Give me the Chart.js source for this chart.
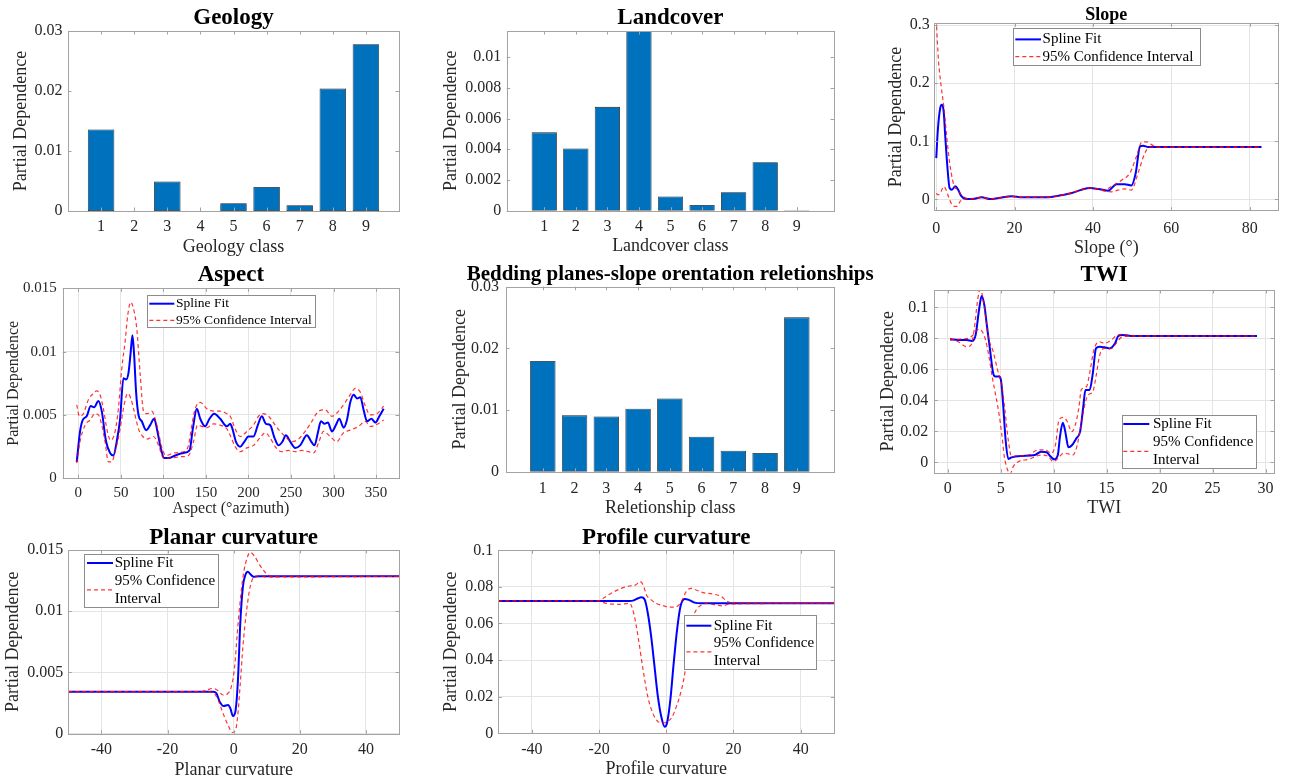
<!DOCTYPE html>
<html>
<head>
<meta charset="utf-8">
<title>Partial dependence plots</title>
<script src="https://cdn.jsdelivr.net/npm/chart.js@4.4.1/dist/chart.umd.min.js"></script>
<style>
  html, body { margin: 0; padding: 0; background: #fff; }
  #figure { position: relative; width: 1291px; height: 782px; overflow: hidden; }
  #figure canvas { position: absolute; }
</style>
</head>
<body>
<div id="figure"></div>
<script>
// ---------- data ----------
const classes = [1, 2, 3, 4, 5, 6, 7, 8, 9];
const geologyPD   = [0.0136, 0, 0.0049, 0, 0.0013, 0.0040, 0.00095, 0.0204, 0.0278];
const landcoverPD = [0.0051, 0.00405, 0.00676, 0.0117, 0.00092, 0.00037, 0.0012, 0.00316, 0.00003];
const beddingPD   = [0.01795, 0.00914, 0.00897, 0.01022, 0.01189, 0.00568, 0.0034, 0.00303, 0.02503];

const slopeFitX = [0, 0.4, 1.0, 1.45, 1.9, 2.3, 2.9, 3.4, 4.0, 4.85, 5.5, 6.3, 7.4, 9.1, 11.6, 13.8, 15.9, 19.3, 21.8, 28.6, 31.2, 34.6, 37.1, 39.3, 41.4, 42.2, 43.9, 46.0, 48.1, 49.8, 50.9, 52.0, 52.8, 54.1, 56.0, 83];
const slopeFitY = [0.071, 0.119, 0.157, 0.163, 0.151, 0.108, 0.051, 0.0195, 0.0166, 0.0224, 0.0178, 0.0063, 0.0011, 0.0006, 0.0034, 0.0006, 0.0023, 0.0052, 0.0034, 0.0034, 0.0063, 0.011, 0.0166, 0.0195, 0.0178, 0.017, 0.015, 0.026, 0.026, 0.024, 0.045, 0.091, 0.0925, 0.09, 0.09, 0.09];
const slopeUpX = [0, 0.55, 1.25, 1.9, 2.5, 3.1, 3.8, 4.6, 5.4, 6.4, 7.5, 9.1, 11.6, 13.8, 15.9, 19.3, 21.8, 28.6, 31.2, 34.6, 37.1, 39.3, 41.4, 43.0, 44.7, 47.3, 49.4, 51.1, 52.5, 53.7, 55.4, 56.6, 83];
const slopeUpY = [0.31, 0.241, 0.195, 0.161, 0.12, 0.08, 0.046, 0.0224, 0.0166, 0.008, 0.0023, 0.0006, 0.0034, 0.0006, 0.0023, 0.0052, 0.0034, 0.0034, 0.0063, 0.011, 0.0166, 0.0195, 0.0178, 0.016, 0.022, 0.033, 0.045, 0.074, 0.099, 0.099, 0.0925, 0.09, 0.09];
const slopeLoX = [0, 0.5, 1.2, 1.9, 2.5, 3.1, 3.8, 4.6, 5.3, 6.1, 7.0, 9.1, 11.6, 13.8, 15.9, 19.3, 21.8, 28.6, 31.2, 34.6, 37.1, 39.3, 41.4, 43.0, 44.7, 46.4, 48.1, 49.8, 51.5, 53.2, 54.5, 83];
const slopeLoY = [0.0103, 0.0075, 0.0132, 0.022, 0.0166, 0.005, -0.0065, -0.0123, -0.0123, -0.0037, 0.0006, 0.0006, 0.0034, 0.0006, 0.0023, 0.0052, 0.0034, 0.0034, 0.0063, 0.011, 0.0166, 0.0195, 0.0178, 0.014, 0.013, 0.016, 0.018, 0.016, 0.045, 0.079, 0.09, 0.09];

const aspectFitX = [-1.9, 2.0, 5.1, 9.8, 14.5, 18.5, 23.6, 27.5, 32.6, 37.3, 41.2, 45.1, 49.1, 53.0, 56.1, 58.9, 61.6, 63.6, 65.6, 67.9, 70.7, 74.6, 79.7, 84.4, 89.1, 93.0, 96.2, 100.9, 106.0, 113.8, 123.6, 130.7, 134.6, 139.3, 143.3, 149.1, 154.2, 159.7, 166.8, 174.6, 178.5, 181.2, 185.2, 190.3, 195.3, 200.0, 205.9, 211.0, 215.7, 220.5, 225.5, 230.6, 235.3, 240.0, 244.0, 249.1, 255.0, 260.8, 268.7, 273.8, 277.7, 281.6, 285.2, 289.5, 293.4, 298.1, 302.8, 306.8, 311.9, 315.8, 319.7, 323.7, 327.6, 331.5, 335.4, 339.4, 344.5, 349.2, 353.9, 359.0];
const aspectFitY = [0.0013, 0.0037, 0.0046, 0.0049, 0.0057, 0.0056, 0.0061, 0.0053, 0.0029, 0.0020, 0.0018, 0.0029, 0.0047, 0.0079, 0.0078, 0.0083, 0.0100, 0.0113, 0.0097, 0.0068, 0.0050, 0.0045, 0.0038, 0.0042, 0.0047, 0.0037, 0.0026, 0.0016, 0.0016, 0.0018, 0.0020, 0.0022, 0.0039, 0.0055, 0.0047, 0.0041, 0.0047, 0.0051, 0.0047, 0.0041, 0.0043, 0.0039, 0.0029, 0.0025, 0.0029, 0.0033, 0.0033, 0.0042, 0.0049, 0.0043, 0.0042, 0.0032, 0.0026, 0.0029, 0.0034, 0.0029, 0.0024, 0.0026, 0.0034, 0.0029, 0.0026, 0.0036, 0.0045, 0.0043, 0.0044, 0.0037, 0.0042, 0.0047, 0.0040, 0.0046, 0.0060, 0.0066, 0.0063, 0.0064, 0.0054, 0.0045, 0.0047, 0.0044, 0.0049, 0.0055];
const aspectUpX = [-1.9, 1.2, 5.9, 11.8, 17.7, 21.6, 25.5, 29.4, 34.1, 38.0, 43.2, 47.1, 51.1, 55.0, 58.1, 61.7, 64.8, 68.7, 72.7, 76.6, 81.3, 86.4, 90.3, 94.3, 98.2, 103.3, 111.9, 123.6, 129.5, 133.4, 137.4, 143.3, 151.1, 159.0, 166.8, 174.6, 178.5, 184.4, 190.3, 198.1, 205.9, 211.8, 217.7, 223.6, 231.4, 237.3, 243.2, 251.1, 258.9, 266.7, 274.6, 282.4, 290.3, 298.1, 306.0, 313.8, 319.7, 325.6, 331.5, 337.4, 343.3, 351.2, 359.0];
const aspectUpY = [0.0058, 0.0049, 0.0051, 0.0062, 0.0067, 0.0069, 0.0066, 0.0055, 0.0037, 0.0030, 0.0037, 0.0055, 0.0087, 0.0108, 0.0129, 0.0139, 0.0134, 0.0118, 0.0082, 0.0053, 0.0051, 0.0053, 0.0047, 0.0036, 0.0024, 0.0018, 0.0020, 0.0021, 0.0026, 0.0042, 0.0055, 0.0060, 0.0055, 0.0053, 0.0053, 0.0051, 0.0049, 0.0039, 0.0033, 0.0037, 0.0042, 0.0049, 0.0051, 0.0049, 0.0042, 0.0037, 0.0033, 0.0029, 0.0031, 0.0037, 0.0045, 0.0053, 0.0054, 0.0049, 0.0053, 0.0060, 0.0066, 0.0071, 0.0068, 0.0057, 0.0050, 0.0051, 0.0057];
const aspectLoX = [-1.9, 2.0, 7.9, 13.8, 19.6, 23.6, 27.5, 31.4, 35.3, 39.2, 43.2, 49.1, 53.8, 58.1, 61.7, 65.6, 70.7, 75.8, 81.3, 88.3, 94.3, 100.1, 108.0, 119.7, 129.5, 135.4, 140.1, 145.2, 151.1, 159.0, 166.8, 174.6, 178.5, 184.4, 190.3, 198.1, 205.9, 213.7, 219.6, 225.5, 231.4, 239.2, 247.1, 255.0, 262.8, 270.6, 276.5, 282.4, 288.2, 296.1, 303.9, 311.7, 319.7, 329.5, 337.4, 343.3, 349.2, 359.0];
const aspectLoY = [0.0012, 0.0029, 0.0042, 0.0046, 0.0051, 0.0050, 0.0042, 0.0029, 0.0013, 0.0013, 0.0021, 0.0039, 0.0058, 0.0067, 0.0063, 0.0053, 0.0039, 0.0033, 0.0031, 0.0033, 0.0026, 0.0016, 0.0016, 0.0017, 0.0018, 0.0029, 0.0042, 0.0041, 0.0040, 0.0043, 0.0042, 0.0039, 0.0034, 0.0025, 0.0021, 0.0024, 0.0026, 0.0032, 0.0036, 0.0032, 0.0025, 0.0021, 0.0022, 0.0021, 0.0022, 0.0021, 0.0020, 0.0028, 0.0037, 0.0033, 0.0029, 0.0036, 0.0038, 0.0041, 0.0045, 0.0041, 0.0042, 0.0046];

const twiFitX = [0.23, 1.0, 1.8, 2.3, 2.64, 2.96, 3.21, 3.46, 3.68, 4.0, 4.3, 4.5, 4.84, 5.03, 5.25, 5.47, 5.72, 6.03, 6.97, 8.23, 8.8, 9.33, 9.64, 10.05, 10.4, 10.6, 10.87, 11.1, 11.4, 11.75, 12.15, 12.5, 12.8, 13.0, 13.4, 13.7, 14.0, 14.35, 14.8, 15.3, 15.8, 16.1, 16.5, 17.5, 29.2];
const twiFitY = [0.0794, 0.0789, 0.0789, 0.0783, 0.0822, 0.0983, 0.1073, 0.1015, 0.0897, 0.0725, 0.0574, 0.0553, 0.0553, 0.0531, 0.0359, 0.0144, 0.0022, 0.0032, 0.0041, 0.0047, 0.0069, 0.0065, 0.0043, 0.0019, 0.0047, 0.0166, 0.0256, 0.0198, 0.0097, 0.0112, 0.0155, 0.0198, 0.0359, 0.0467, 0.0467, 0.0574, 0.0735, 0.0746, 0.0742, 0.0735, 0.0768, 0.0815, 0.0822, 0.0815, 0.0815];
const twiUpX = [0.23, 1.0, 1.8, 2.2, 2.5, 2.83, 3.05, 3.27, 3.52, 3.83, 4.3, 4.71, 5.1, 5.4, 5.72, 6.03, 6.5, 7.6, 8.55, 9.2, 9.8, 10.2, 10.5, 10.9, 11.3, 11.7, 12.0, 12.4, 12.6, 13.1, 13.4, 13.8, 14.3, 14.8, 15.45, 15.9, 16.4, 17.5, 29.2];
const twiUpY = [0.08, 0.0778, 0.0746, 0.0757, 0.0854, 0.1047, 0.1115, 0.108, 0.0972, 0.0811, 0.0714, 0.0596, 0.05, 0.034, 0.0144, 0.0037, 0.0041, 0.0047, 0.008, 0.008, 0.0058, 0.0123, 0.0273, 0.029, 0.0262, 0.0198, 0.023, 0.0359, 0.0467, 0.0488, 0.0574, 0.0725, 0.0778, 0.0768, 0.0789, 0.0815, 0.0826, 0.0815, 0.0815];
const twiLoX = [0.23, 1.0, 1.95, 2.4, 2.9, 3.27, 3.58, 3.9, 4.2, 4.5, 4.84, 5.1, 5.35, 5.66, 5.9, 6.19, 6.66, 7.6, 8.86, 9.5, 9.96, 10.43, 10.9, 11.4, 11.8, 12.15, 12.5, 12.9, 13.25, 13.7, 14.0, 14.35, 14.8, 15.45, 15.9, 16.4, 17.5, 29.2];
const twiLoY = [0.0789, 0.0794, 0.08, 0.0822, 0.0858, 0.0843, 0.0789, 0.0682, 0.0553, 0.0445, 0.0316, 0.0187, 0.0037, -0.005, -0.0075, -0.0028, 0.0004, 0.0019, 0.0047, 0.0037, 0.0004, 0.0026, 0.0058, 0.0054, 0.0047, 0.009, 0.0209, 0.0359, 0.0434, 0.0456, 0.0553, 0.0692, 0.0735, 0.0735, 0.0768, 0.0806, 0.0815, 0.0815];

const planarFitX = [-50, -6.2, -5.2, -4.2, -3.0, -1.7, -1.0, -0.2, 0.6, 1.3, 2.0, 2.8, 3.6, 4.3, 5.0, 6.0, 7.8, 50];
const planarFitY = [0.00343, 0.00343, 0.0033, 0.0026, 0.00226, 0.00234, 0.00207, 0.00144, 0.00193, 0.00438, 0.009, 0.012, 0.013, 0.01323, 0.01304, 0.01282, 0.01285, 0.01285];
const planarUpX = [-50, -10.2, -8.2, -6.2, -4.7, -3.2, -1.7, -0.7, 0.3, 1.1, 2.0, 3.0, 4.0, 5.0, 6.3, 7.8, 9.8, 11.8, 13.8, 50];
const planarUpY = [0.00343, 0.00343, 0.00357, 0.0037, 0.0035, 0.00316, 0.0033, 0.00384, 0.00547, 0.0082, 0.0109, 0.0131, 0.0143, 0.0148, 0.0145, 0.0138, 0.0131, 0.0128, 0.01285, 0.01285];
const planarLoX = [-50, -8.2, -6.2, -4.7, -3.2, -1.7, -0.4, 0.6, 1.3, 2.0, 2.8, 3.8, 5.0, 6.3, 7.8, 9.8, 50];
const planarLoY = [0.00343, 0.00343, 0.00335, 0.00275, 0.00166, 0.0007, 0.0001, 0.0003, 0.00166, 0.0041, 0.0071, 0.0098, 0.012, 0.01282, 0.01288, 0.0128, 0.01285];

const profileFitX = [-50, -10.9, -9.9, -8.4, -7.4, -6.4, -5.5, -4.5, -3.5, -2.5, -1.5, -0.5, 0.2, 1.2, 2.2, 3.2, 4.2, 5.5, 6.7, 8.4, 10.4, 50];
const profileFitY = [0.0723, 0.0723, 0.0725, 0.0738, 0.0743, 0.0729, 0.0656, 0.0528, 0.0364, 0.02, 0.0091, 0.0036, 0.0055, 0.0182, 0.0383, 0.0565, 0.0692, 0.0734, 0.0729, 0.0714, 0.071, 0.071];
const profileUpX = [-50, -20.3, -18.8, -16.4, -13.4, -10.9, -9.1, -7.9, -6.9, -5.9, -4.5, -3.0, -1.0, 1.0, 3.0, 4.5, 5.9, 7.4, 8.9, 10.9, 13.9, 16.4, 17.8, 19.3, 50];
const profileUpY = [0.0723, 0.0723, 0.0738, 0.0765, 0.0792, 0.0805, 0.0811, 0.0829, 0.0811, 0.0756, 0.0729, 0.071, 0.0698, 0.0689, 0.0692, 0.072, 0.0774, 0.0792, 0.0783, 0.0769, 0.0761, 0.0747, 0.0725, 0.0714, 0.071];
const profileLoX = [-50, -20.3, -17.8, -13.9, -10.9, -9.7, -8.4, -6.9, -5.5, -4.0, -2.5, -1.0, 0.2, 1.5, 3.0, 4.5, 5.5, 6.4, 7.4, 8.9, 10.4, 11.9, 14.9, 16.8, 18.8, 50];
const profileLoY = [0.0723, 0.0723, 0.071, 0.0705, 0.071, 0.0656, 0.0528, 0.0346, 0.02, 0.0109, 0.0064, 0.0055, 0.0064, 0.0082, 0.0146, 0.0237, 0.0328, 0.0474, 0.0601, 0.0674, 0.0701, 0.071, 0.0701, 0.0696, 0.0707, 0.071];

// tick positions
const ticksPD03  = [0, 0.01, 0.02, 0.03];
const ticksPD012 = [0, 0.002, 0.004, 0.006, 0.008, 0.01];
const ticksPD3   = [0, 0.1, 0.2, 0.3];
const ticksPD015 = [0, 0.005, 0.01, 0.015];
const ticksPD1   = [0, 0.02, 0.04, 0.06, 0.08, 0.1];
const ticksSlope  = [0, 20, 40, 60, 80];
const ticksAspect = [0, 50, 100, 150, 200, 250, 300, 350];
const ticksTWI    = [0, 5, 10, 15, 20, 25, 30];
const ticksCurv   = [-40, -20, 0, 20, 40];

// ---------- styling ----------
const FONT = '"Liberation Serif", "Times New Roman", serif';
const AXIS = '#a3a3a3', GRID = '#e4e4e4', TEXT = '#262626';
const BAR_BLUE = '#0072bd', FIT_BLUE = '#0000ff', CI_RED = 'rgba(255, 0, 0, 0.8)';

Chart.defaults.font.family = FONT;
Chart.defaults.color = TEXT;

const num = v => String(parseFloat(Number(v).toFixed(5)));
const pairs = (xs, ys) => xs.map((x, i) => ({ x, y: ys[i] }));

function barSet(values) {
  return [{
    label: 'Partial Dependence', data: pairs(classes, values),
    backgroundColor: BAR_BLUE, borderColor: '#1c1c1c', borderWidth: 0.8,
    borderSkipped: false, categoryPercentage: 1, barPercentage: 0.8
  }];
}

// CI curves come first so they end up drawn over the fit
function curveSets(fitX, fitY, upX, upY, loX, loY) {
  const ci = { label: '95% Confidence Interval', borderColor: CI_RED, borderWidth: 1.2, borderDash: [4, 3] };
  return [
    { ...ci, data: pairs(upX, upY) },
    { ...ci, data: pairs(loX, loY) },
    { label: 'Spline Fit', data: pairs(fitX, fitY), borderColor: FIT_BLUE, borderWidth: 2 }
  ];
}

// ---------- plugins ----------
const panelTitle = {
  id: 'panelTitle',
  afterDraw(chart, args, o) {
    const { ctx, chartArea: a } = chart;
    ctx.save();
    ctx.font = `bold ${o.size}px ${FONT}`;
    ctx.fillStyle = '#000';
    ctx.textAlign = 'center';
    ctx.textBaseline = 'middle';
    ctx.fillText(o.text, (a.left + a.right) / 2, o.y);
    ctx.restore();
  }
};

// box around the axes plus inward tick marks on all four sides
const matlabAxes = {
  id: 'matlabAxes',
  afterDatasetsDraw(chart) {
    const { ctx, chartArea: a, scales: { x, y } } = chart;
    const t = 3.5;
    ctx.save();
    ctx.strokeStyle = AXIS;
    ctx.lineWidth = 1;
    ctx.strokeRect(Math.round(a.left) + 0.5, Math.round(a.top) + 0.5,
                   Math.round(a.right - a.left), Math.round(a.bottom - a.top));
    ctx.beginPath();
    x.ticks.forEach(tk => {
      const px = Math.round(x.getPixelForValue(tk.value)) + 0.5;
      ctx.moveTo(px, a.bottom); ctx.lineTo(px, a.bottom - t);
      ctx.moveTo(px, a.top); ctx.lineTo(px, a.top + t);
    });
    y.ticks.forEach(tk => {
      const py = Math.round(y.getPixelForValue(tk.value)) + 0.5;
      ctx.moveTo(a.left, py); ctx.lineTo(a.left + t, py);
      ctx.moveTo(a.right, py); ctx.lineTo(a.right - t, py);
    });
    ctx.stroke();
    ctx.restore();
  }
};

function wrapText(ctx, text, maxW) {
  const words = text.split(' ');
  const lines = [];
  let cur = '';
  words.forEach(w => {
    const test = cur ? cur + ' ' + w : w;
    if (cur && ctx.measureText(test).width > maxW) { lines.push(cur); cur = w; }
    else cur = test;
  });
  lines.push(cur);
  return lines;
}

// legend box drawn inside the plot area
const boxLegend = {
  id: 'boxLegend',
  afterDraw(chart, args, o) {
    if (!o.items || !o.items.length) return;
    const { ctx, chartArea: a } = chart;
    const x = Math.round(a.left + o.dx), y = Math.round(a.top + o.dy);
    ctx.save();
    ctx.fillStyle = '#fff';
    ctx.fillRect(x, y, o.w, o.h);
    ctx.strokeStyle = '#8c8c8c';
    ctx.lineWidth = 1;
    ctx.strokeRect(x + 0.5, y + 0.5, o.w, o.h);
    ctx.font = `${o.size}px ${FONT}`;
    ctx.textBaseline = 'middle';
    let row = 0;
    o.items.forEach(i => {
      const ds = chart.data.datasets[i];
      const lines = wrapText(ctx, ds.label, o.wrapAt);
      const y0 = y + o.firstRow + row * o.rowH;
      ctx.fillStyle = '#000';
      lines.forEach((t, k) => ctx.fillText(t, x + o.textDx, y0 + k * o.rowH));
      const ly = y0 + (lines.length - 1) * o.rowH / 2;
      ctx.strokeStyle = ds.borderColor;
      ctx.lineWidth = ds.borderWidth;
      ctx.setLineDash(ds.borderDash || []);
      ctx.beginPath();
      ctx.moveTo(x + o.lineDx[0], ly);
      ctx.lineTo(x + o.lineDx[1], ly);
      ctx.stroke();
      ctx.setLineDash([]);
      row += lines.length;
    });
    ctx.restore();
  }
};

// ---------- panel builder ----------
function panel(p) {
  const [bl, bt, bw, bh] = p.box;
  const [L, T, R, B] = p.plot;
  const canvas = document.createElement('canvas');
  canvas.width = bw;
  canvas.height = bh;
  canvas.style.left = bl + 'px';
  canvas.style.top = bt + 'px';
  document.getElementById('figure').appendChild(canvas);

  const grid = p.grid ? { color: GRID, drawTicks: false, offset: false }
                      : { display: false, drawTicks: false, offset: false };
  const tickSize = p.tickSize || 16;
  const labelSize = p.labelSize || 18;

  return new Chart(canvas, {
    type: p.type,
    data: { datasets: p.datasets },
    plugins: [panelTitle, matlabAxes, boxLegend],
    options: {
      responsive: false,
      animation: false,
      devicePixelRatio: 1,
      layout: { padding: { left: 0, top: T - bt, right: bl + bw - R, bottom: 0 } },
      elements: { point: { radius: 0 }, line: { cubicInterpolationMode: 'monotone' } },
      plugins: {
        legend: { display: false },
        tooltip: { enabled: false },
        panelTitle: { text: p.title, size: p.titleSize || 23, y: p.titleY - bt },
        boxLegend: p.legend || { items: [] }
      },
      scales: {
        x: {
          type: 'linear', min: p.xRange[0], max: p.xRange[1], offset: false,
          grid, border: { display: false },
          afterBuildTicks: s => { s.ticks = p.xTicks.map(value => ({ value })); },
          afterFit: s => { s.height = bt + bh - B; },
          ticks: {
            color: TEXT, font: { size: tickSize, lineHeight: 1 },
            padding: p.xTickY - B - tickSize / 2,
            maxRotation: 0, autoSkip: false, callback: num
          },
          title: {
            display: true, text: p.xLabel, color: TEXT,
            font: { size: labelSize, lineHeight: 1 },
            padding: { top: 0, bottom: bt + bh - p.xLabelY - labelSize / 2 }
          }
        },
        y: {
          type: 'linear', min: p.yRange[0], max: p.yRange[1],
          grid, border: { display: false },
          afterBuildTicks: s => { s.ticks = p.yTicks.map(value => ({ value })); },
          afterFit: s => { s.width = L - bl; },
          ticks: {
            color: TEXT, font: { size: tickSize, lineHeight: 1 },
            padding: p.yTickPad || 5.5, autoSkip: false, callback: num
          },
          title: {
            display: true, text: 'Partial Dependence', color: TEXT,
            font: { size: labelSize, lineHeight: 1 },
            padding: { top: p.yLabelX - bl - labelSize / 2, bottom: 0 }
          }
        }
      }
    }
  });
}

// ---------- the eight panels ----------
panel({
  type: 'bar', datasets: barSet(geologyPD), title: 'Geology', titleY: 18,
  box: [0, 0, 432, 260], plot: [68, 31, 399, 211],
  xRange: [0, 10], xTicks: classes, yRange: [0, 0.03], yTicks: ticksPD03,
  xLabel: 'Geology class', xLabelY: 247, xTickY: 226.7, yLabelX: 21.7
});

panel({
  type: 'bar', datasets: barSet(landcoverPD), title: 'Landcover', titleY: 18.3,
  box: [432, 0, 438, 260], plot: [506.7, 31, 834, 210.7],
  xRange: [-0.19, 10.18], xTicks: classes, yRange: [0, 0.0117], yTicks: ticksPD012,
  xLabel: 'Landcover class', xLabelY: 246.7, xTickY: 226.7, yLabelX: 451.7
});

panel({
  type: 'line', grid: true,
  datasets: curveSets(slopeFitX, slopeFitY, slopeUpX, slopeUpY, slopeLoX, slopeLoY),
  title: 'Slope', titleSize: 18, titleY: 15,
  box: [870, 0, 421, 260], plot: [934.3, 23.3, 1278.3, 210.7],
  xRange: [-0.5, 87.3], xTicks: ticksSlope, yRange: [-0.0196, 0.3034], yTicks: ticksPD3,
  xLabel: 'Slope (°)', xLabelY: 248.3, xTickY: 228.3, yLabelX: 896.3, yTickPad: 4.5,
  legend: { items: [2, 0], dx: 78.4, dy: 5, w: 187, h: 37, size: 15, firstRow: 11.4, rowH: 17.3,
            textDx: 29.6, lineDx: [2.3, 28], wrapAt: 400 }
});

panel({
  type: 'line', grid: true,
  datasets: curveSets(aspectFitX, aspectFitY, aspectUpX, aspectUpY, aspectLoX, aspectLoY),
  title: 'Aspect', titleY: 275, tickSize: 15, labelSize: 16,
  box: [0, 260, 432, 260], plot: [62.7, 288.3, 399, 478.3],
  xRange: [-18.4, 377], xTicks: ticksAspect, yRange: [0, 0.015], yTicks: ticksPD015,
  xLabel: 'Aspect (°azimuth)', xLabelY: 508.3, xTickY: 493.3, yLabelX: 13.3, yTickPad: 6,
  legend: { items: [2, 0], dx: 84, dy: 6.7, w: 168, h: 32, size: 13.5, firstRow: 8.7, rowH: 16.6,
            textDx: 29, lineDx: [2.3, 27.3], wrapAt: 400 }
});

panel({
  type: 'bar', datasets: barSet(beddingPD),
  title: 'Bedding planes-slope orentation reletionships', titleSize: 21, titleY: 275,
  box: [432, 260, 450, 260], plot: [506, 286.7, 834.3, 471.7],
  xRange: [-0.16, 10.18], xTicks: classes, yRange: [0, 0.03], yTicks: ticksPD03,
  xLabel: 'Reletionship class', xLabelY: 508.3, xTickY: 488.3, yLabelX: 460, yTickPad: 7
});

panel({
  type: 'line', grid: true,
  datasets: curveSets(twiFitX, twiFitY, twiUpX, twiUpY, twiLoX, twiLoY),
  title: 'TWI', titleY: 275,
  box: [870, 260, 421, 260], plot: [934.3, 290, 1274, 472.7],
  xRange: [-1.26, 30.8], xTicks: ticksTWI, yRange: [-0.0067, 0.1112], yTicks: ticksPD1,
  xLabel: 'TWI', xLabelY: 508.3, xTickY: 488.3, yLabelX: 888.3, yTickPad: 6,
  legend: { items: [2, 0], dx: 187.4, dy: 125, w: 134, h: 53, size: 15, firstRow: 9, rowH: 18.2,
            textDx: 31, lineDx: [1.3, 27.3], wrapAt: 110 }
});

panel({
  type: 'line', grid: true,
  datasets: curveSets(planarFitX, planarFitY, planarUpX, planarUpY, planarLoX, planarLoY),
  title: 'Planar curvature', titleY: 538.3,
  box: [0, 520, 432, 262], plot: [68.3, 550, 399, 733.7],
  xRange: [-50, 50], xTicks: ticksCurv, yRange: [0, 0.015], yTicks: ticksPD015,
  xLabel: 'Planar curvature', xLabelY: 770, xTickY: 750, yLabelX: 13.3, yTickPad: 5,
  legend: { items: [2, 0], dx: 16, dy: 4.3, w: 134, h: 53, size: 15, firstRow: 9, rowH: 17.9,
            textDx: 30.7, lineDx: [3, 29], wrapAt: 110 }
});

panel({
  type: 'line', grid: true,
  datasets: curveSets(profileFitX, profileFitY, profileUpX, profileUpY, profileLoX, profileLoY),
  title: 'Profile curvature', titleY: 538.3,
  box: [432, 520, 438, 262], plot: [498.3, 550.3, 834.3, 733.3],
  xRange: [-50, 50], xTicks: ticksCurv, yRange: [0, 0.1], yTicks: ticksPD1,
  xLabel: 'Profile curvature', xLabelY: 769.3, xTickY: 749.3, yLabelX: 451.7, yTickPad: 5,
  legend: { items: [2, 0], dx: 186, dy: 64.7, w: 132, h: 54, size: 15, firstRow: 10.7, rowH: 17.5,
            textDx: 29.7, lineDx: [2.4, 27.4], wrapAt: 110 }
});
</script>
</body>
</html>
